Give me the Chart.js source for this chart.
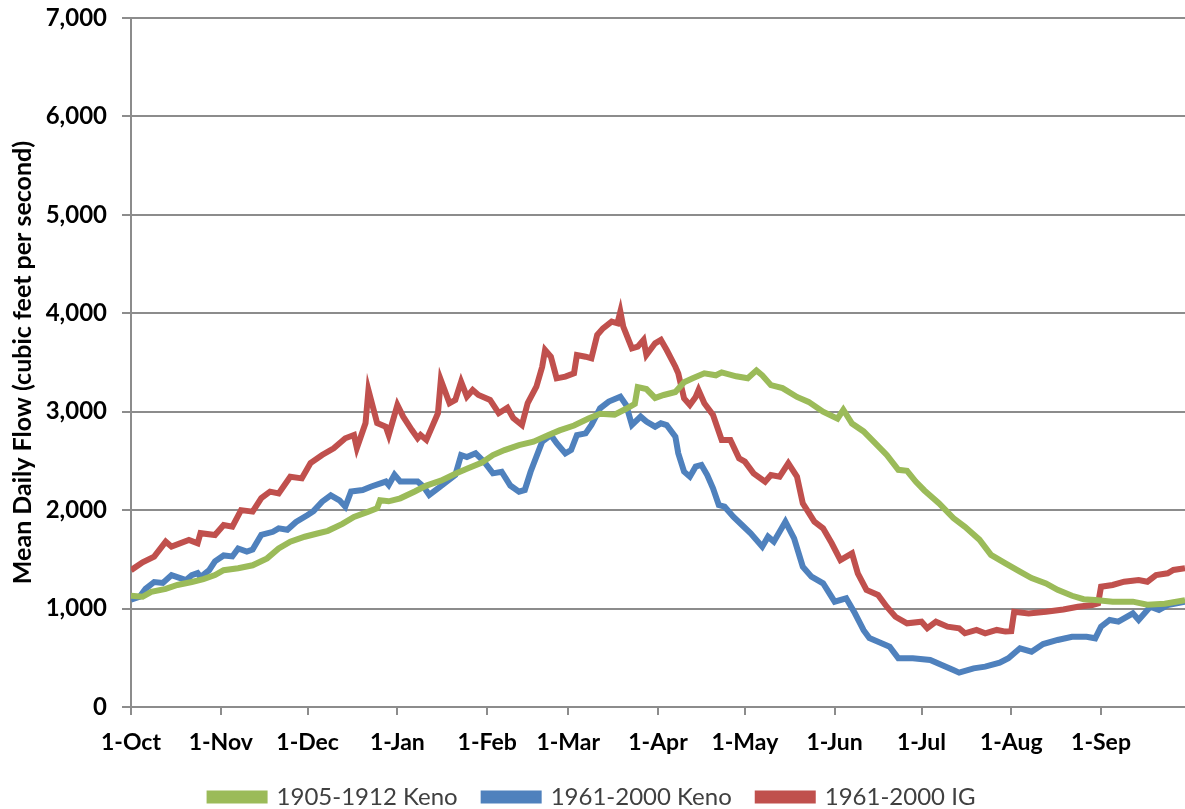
<!DOCTYPE html>
<html>
<head>
<meta charset="utf-8">
<script src="https://cdn.jsdelivr.net/npm/chart.js@4.4.1/dist/chart.umd.min.js"></script>
<style>
  html, body { margin: 0; padding: 0; background: #fff; overflow: hidden; }
  #wrap { width: 1185px; height: 809px; overflow: hidden; }
</style>
</head>
<body>
<div id="wrap"><canvas id="flowChart" width="1185" height="819"></canvas></div>
<script>
// day 0 = 1-Oct, water year
const monthDays = [0, 31, 61, 92, 123, 151, 182, 212, 243, 273, 304, 335];
const monthLabels = ['1-Oct', '1-Nov', '1-Dec', '1-Jan', '1-Feb', '1-Mar', '1-Apr', '1-May', '1-Jun', '1-Jul', '1-Aug', '1-Sep'];
const seriesNames = ['1905-1912 Keno', '1961-2000 Keno', '1961-2000 IG'];

const keno1905Days = [0, 4, 7, 12, 16, 21, 25, 29, 32, 37, 42, 47, 51, 55, 60, 64, 68, 73, 77, 82, 85, 86, 89, 93, 98, 102, 107, 112, 116, 121, 125, 129, 134, 139, 144, 148, 153, 158, 162, 167, 171, 174, 175, 178, 181, 184, 188, 191, 194, 198, 202, 204, 209, 213, 216, 218, 221, 225, 230, 234, 239, 244, 246, 249, 253, 257, 261, 265, 268, 271, 274, 279, 284, 288, 293, 297, 302, 307, 311, 316, 320, 325, 329, 333, 339, 346, 351, 357, 364];
const keno1905Flow = [1130, 1120, 1170, 1200, 1240, 1270, 1300, 1340, 1390, 1410, 1440, 1510, 1610, 1680, 1730, 1760, 1790, 1860, 1930, 1985, 2020, 2100, 2090, 2120, 2190, 2250, 2300, 2370, 2420, 2480, 2560, 2610, 2660, 2695, 2760, 2810, 2860, 2930, 2980, 2970, 3030, 3080, 3250, 3230, 3140, 3170, 3200, 3300, 3340, 3390, 3370, 3400, 3360, 3340, 3420, 3370, 3270, 3240, 3150, 3100, 3000, 2930, 3020, 2880, 2800, 2680, 2560, 2410, 2400, 2290, 2200, 2070, 1920, 1830, 1700, 1545, 1460, 1375, 1310, 1255, 1190, 1130, 1095, 1087, 1070, 1070, 1040, 1050, 1085];

const keno1961Days = [0, 3, 5, 8, 11, 14, 17, 19, 21, 23, 24, 27, 29, 32, 35, 37, 40, 42, 45, 49, 51, 54, 57, 61, 63, 66, 69, 72, 74, 76, 80, 83, 88, 89, 91, 93, 97, 99, 101, 103, 106, 109, 112, 114, 116, 119, 122, 125, 128, 131, 134, 136, 138, 142, 145, 147, 150, 152, 154, 157, 159, 162, 165, 169, 171, 173, 176, 178, 181, 183, 185, 188, 189, 191, 193, 195, 197, 199, 201, 203, 205, 208, 211, 214, 218, 220, 222, 226, 229, 232, 235, 239, 243, 247, 250, 253, 255, 258, 262, 265, 270, 276, 280, 284, 286, 291, 295, 300, 303, 307, 311, 315, 320, 325, 330, 333, 335, 338, 341, 346, 348, 352, 355, 358, 364];
const keno1961Flow = [1090, 1120, 1200, 1270, 1260, 1340, 1310, 1290, 1340, 1360, 1320, 1390, 1480, 1540, 1530, 1610, 1580, 1600, 1750, 1780, 1815, 1800, 1880, 1950, 1990, 2086, 2150, 2100, 2035, 2190, 2205, 2240, 2290, 2255, 2360, 2290, 2290, 2290, 2240, 2154, 2220, 2290, 2357, 2560, 2540, 2577, 2490, 2374, 2390, 2250, 2188, 2205, 2390, 2695, 2763, 2680, 2577, 2611, 2763, 2780, 2865, 3035, 3103, 3153, 3068, 2865, 2950, 2900, 2848, 2882, 2865, 2746, 2577, 2391, 2340, 2442, 2459, 2357, 2222, 2052, 2035, 1934, 1849, 1765, 1629, 1730, 1680, 1883, 1714, 1425, 1324, 1257, 1070, 1104, 952, 780, 700, 663, 613, 495, 495, 478, 427, 376, 349, 393, 410, 450, 495, 596, 562, 640, 681, 714, 714, 698, 816, 884, 867, 952, 884, 1019, 985, 1036, 1070];

const ig1961Days = [0, 4, 8, 12, 14, 20, 23, 24, 29, 32, 35, 38, 42, 45, 48, 51, 55, 59, 62, 66, 70, 74, 77, 78, 81, 82, 85, 88, 89, 92, 94, 97, 99, 100, 102, 104, 106, 107, 110, 112, 114, 116, 118, 120, 124, 127, 130, 132, 135, 137, 140, 142, 143, 145, 147, 150, 153, 154, 157, 159, 161, 163, 166, 168, 169, 170, 173, 175, 177, 178, 181, 183, 185, 188, 189, 191, 193, 195, 196, 198, 201, 204, 207, 210, 212, 215, 219, 221, 224, 227, 230, 232, 236, 239, 242, 245, 249, 251, 254, 258, 261, 264, 268, 273, 275, 278, 282, 286, 288, 292, 295, 299, 302, 304, 305, 310, 316, 322, 327, 332, 334, 335, 339, 343, 348, 351, 354, 358, 360, 364];
const ig1961Flow = [1390, 1470, 1527, 1680, 1629, 1697, 1663, 1766, 1747, 1849, 1832, 2000, 1985, 2123, 2188, 2170, 2340, 2323, 2478, 2560, 2628, 2730, 2763, 2631, 2885, 3220, 2885, 2848, 2763, 3068, 2950, 2814, 2730, 2763, 2713, 2848, 2985, 3322, 3086, 3120, 3305, 3153, 3220, 3170, 3120, 2985, 3040, 2936, 2865, 3088, 3254, 3457, 3627, 3559, 3339, 3356, 3390, 3576, 3559, 3542, 3780, 3847, 3915, 3898, 4016, 3864, 3644, 3661, 3729, 3576, 3695, 3729, 3627, 3457, 3390, 3135, 3068, 3150, 3220, 3086, 2967, 2713, 2713, 2527, 2493, 2374, 2289, 2357, 2340, 2476, 2340, 2069, 1883, 1815, 1663, 1493, 1561, 1358, 1189, 1138, 1019, 917, 850, 867, 800, 867, 816, 800, 749, 783, 749, 783, 766, 770, 968, 951, 968, 990, 1019, 1036, 1053, 1222, 1240, 1273, 1290, 1273, 1341, 1358, 1392, 1409];

const seriesColors = ['#9bbb59', '#4f81bd', '#c0504d'];

const toPoints = (days, flow) => days.map((d, i) => ({ x: d, y: flow[i] }));
const allSeries = [
    toPoints(keno1905Days, keno1905Flow),
    toPoints(keno1961Days, keno1961Flow),
    toPoints(ig1961Days, ig1961Flow)
];

const datasets = seriesNames.map((name, i) => ({
    label: name,
    data: allSeries[i],
    borderColor: seriesColors[i],
    backgroundColor: seriesColors[i],
    borderWidth: 6,
    pointRadius: 0,
    tension: 0,
    fill: false
}));

const gridGray = '#8c8c8c';
const ctx = document.getElementById('flowChart').getContext('2d');
const chart = new Chart(ctx, {
    type: 'line',
    data: { datasets: datasets },
    options: {
        responsive: false,
        animation: false,
        layout: { padding: { top: 18, right: 0, left: 0, bottom: 0 } },
        scales: {
            x: {
                type: 'linear',
                min: 0,
                max: 364,
                afterBuildTicks: scale => {
                    scale.ticks = monthDays.map(v => ({ value: v }));
                },
                afterFit: scale => { scale.height = 52; },
                ticks: {
                    autoSkip: false,
                    maxRotation: 0,
                    color: '#000',
                    padding: 14,
                    font: { family: 'Lato', size: 23, weight: 'bold' },
                    callback: value => monthLabels[monthDays.indexOf(value)]
                },
                grid: { drawOnChartArea: false, drawTicks: true, tickLength: 8, color: gridGray, lineWidth: 2 },
                border: { color: gridGray, width: 2 }
            },
            y: {
                min: 0,
                max: 7000,
                afterFit: scale => {
                    scale.width = 131;
                    scale.paddingTop = 0;
                    scale.paddingBottom = 0;
                },
                ticks: {
                    stepSize: 1000,
                    color: '#000',
                    padding: 15,
                    font: { family: 'Lato', size: 24, weight: 'bold' },
                    callback: value => value.toLocaleString('en-US')
                },
                grid: { color: gridGray, lineWidth: 2, tickLength: 9 },
                border: { color: gridGray, width: 2 },
                title: {
                    display: true,
                    text: 'Mean Daily Flow (cubic feet per second)',
                    color: '#000',
                    font: { family: 'Lato', size: 25, weight: 'bold' },
                    padding: { top: 8, bottom: 4 }
                }
            }
        },
        plugins: {
            legend: {
                position: 'bottom',
                labels: {
                    boxWidth: 55,
                    boxHeight: 7,
                    padding: 26,
                    color: '#404040',
                    font: { family: 'Lato', size: 24 }
                }
            },
            tooltip: { enabled: false }
        }
    }
});
</script>
</body>
</html>
